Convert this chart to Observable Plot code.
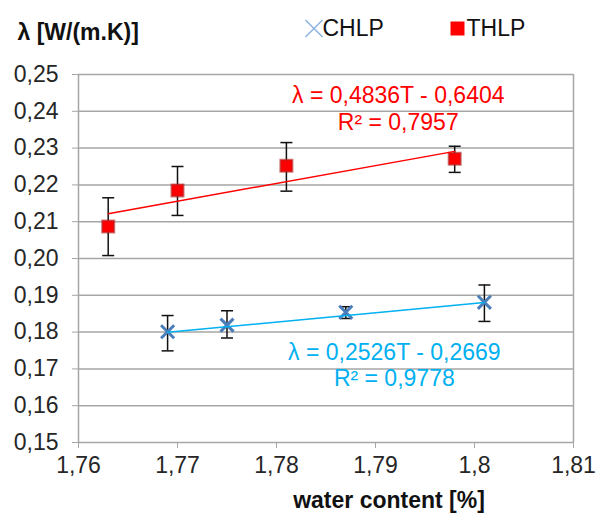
<!DOCTYPE html>
<html>
<head>
<meta charset="utf-8">
<script src="https://cdn.jsdelivr.net/npm/d3@7"></script>
<script src="https://cdn.jsdelivr.net/npm/@observablehq/plot@0.6"></script>
<style>
  html, body { margin: 0; padding: 0; background: #fff; }
</style>
</head>
<body>
<div id="chart"></div>
<script>
// ---- data ----
const xTicks = [1.76, 1.77, 1.78, 1.79, 1.8, 1.81];
const yTicks = [0.15, 0.16, 0.17, 0.18, 0.19, 0.20, 0.21, 0.22, 0.23, 0.24, 0.25];

const thlpX = [1.763, 1.770, 1.781, 1.798];
const thlpY = [0.2087, 0.2185, 0.2252, 0.2271];
const thlpLow = [0.2008, 0.2117, 0.2183, 0.2234];
const thlpHigh = [0.2165, 0.2250, 0.2315, 0.2305];

const chlpX = [1.769, 1.775, 1.787, 1.801];
const chlpY = [0.1801, 0.1819, 0.1854, 0.1881];
const chlpLow = [0.1749, 0.1784, 0.1837, 0.1829];
const chlpHigh = [0.1845, 0.1858, 0.1869, 0.1928];

const thlpSlope = 0.4836, thlpIntercept = -0.6404;
const chlpSlope = 0.2526, chlpIntercept = -0.2669;

const annotText = ["λ = 0,4836T - 0,6404", "R² = 0,7957", "λ = 0,2526T - 0,2669", "R² = 0,9778"];
const annotX = [1.7923, 1.7923, 1.7919, 1.7919];
const annotY = [0.2443, 0.2370, 0.1744, 0.1673];
const annotSeries = ["THLP", "THLP", "CHLP", "CHLP"];

const seriesNames = ["CHLP", "THLP"];
const yLabel = "λ [W/(m.K)]";
const xLabel = "water content [%]";

// ---- tables ----
const thlp = thlpX.map((x, i) => ({x, y: thlpY[i], lo: thlpLow[i], hi: thlpHigh[i]}));
const chlp = chlpX.map((x, i) => ({x, y: chlpY[i], lo: chlpLow[i], hi: chlpHigh[i]}));
const trendOf = (xs, m, b) => [d3.min(xs), d3.max(xs)].map(x => ({x, y: m * x + b}));
const thlpTrend = trendOf(thlpX, thlpSlope, thlpIntercept);
const chlpTrend = trendOf(chlpX, chlpSlope, chlpIntercept);
const annots = annotText.map((t, i) => ({t, x: annotX[i], y: annotY[i], s: annotSeries[i]}));

const RED = "#ff0000", BLUE_LINE = "#00b0f0", BLUE_MARK = "#4a7ebb", GRID = "#a6a6a6";
const capSymbol = {draw(ctx, size) { const r = Math.sqrt(size / Math.PI); ctx.moveTo(-r, 0); ctx.lineTo(r, 0); }};
const comma = s => s.replace(".", ",");

const chart = Plot.plot({
  width: 599, height: 513,
  marginLeft: 78, marginRight: 26, marginTop: 74, marginBottom: 71,
  style: {fontFamily: "'Liberation Sans', Arial, sans-serif", fontSize: "23px", background: "#fff", overflow: "visible"},
  x: {domain: [1.76, 1.81]},
  y: {domain: [0.15, 0.25]},
  marks: [
    Plot.gridY(yTicks, {stroke: GRID, strokeOpacity: 1, strokeWidth: 1.5}),
    Plot.ruleX([1.76, 1.81], {stroke: GRID, strokeWidth: 1.5}),
    Plot.axisY(yTicks, {tickFormat: d => comma(d3.format(".2f")(d)), tickSize: 6, tickPadding: 14, stroke: GRID, strokeOpacity: 1, fill: "#262626", label: null, fontSize: 23}),
    Plot.axisX(xTicks, {tickFormat: d => comma(String(d)), tickSize: 6, tickPadding: 8, stroke: GRID, strokeOpacity: 1, fill: "#262626", label: null, fontSize: 23}),
    // error bars
    Plot.ruleX(thlp, {x: "x", y1: "lo", y2: "hi", stroke: "#111", strokeWidth: 1.5}),
    Plot.dot(thlp, {x: "x", y: "lo", symbol: capSymbol, r: 6, stroke: "#111", strokeWidth: 1.5}),
    Plot.dot(thlp, {x: "x", y: "hi", symbol: capSymbol, r: 6, stroke: "#111", strokeWidth: 1.5}),
    Plot.ruleX(chlp, {x: "x", y1: "lo", y2: "hi", stroke: "#111", strokeWidth: 1.5}),
    Plot.dot(chlp, {x: "x", y: "lo", symbol: capSymbol, r: 6, stroke: "#111", strokeWidth: 1.5}),
    Plot.dot(chlp, {x: "x", y: "hi", symbol: capSymbol, r: 6, stroke: "#111", strokeWidth: 1.5}),
    // markers
    Plot.dot(thlp, {x: "x", y: "y", symbol: "square", r: 6.8, fill: RED, stroke: "#b22222", strokeOpacity: 0.6, strokeWidth: 2}),
    Plot.dot(chlp, {x: "x", y: "y", symbol: "times", r: 6, stroke: BLUE_MARK, strokeWidth: 3}),
    // trend lines
    Plot.line(thlpTrend, {x: "x", y: "y", stroke: RED, strokeWidth: 1.5}),
    Plot.line(chlpTrend, {x: "x", y: "y", stroke: BLUE_LINE, strokeWidth: 1.5}),
    // equations
    Plot.text(annots, {x: "x", y: "y", text: "t", fill: d => d.s === "THLP" ? RED : BLUE_LINE, fontSize: 23, textAnchor: "middle", lineAnchor: "middle"}),
    // axis titles
    Plot.text([yLabel], {frameAnchor: "top-left", text: d => d, dx: -61, dy: -42, textAnchor: "start", lineAnchor: "middle", fontWeight: "bold", fontSize: 23, fill: "#111"}),
    Plot.text([xLabel], {frameAnchor: "bottom", text: d => d, dx: 63, dy: 58, textAnchor: "middle", lineAnchor: "middle", fontWeight: "bold", fontSize: 23, fill: "#111"}),
    // legend
    Plot.dot([seriesNames[0]], {frameAnchor: "top-left", dx: 235.5, dy: -46, symbol: "times", r: 7.8, stroke: "#8db3e2", strokeWidth: 1.5}),
    Plot.text([seriesNames[0]], {frameAnchor: "top-left", text: d => d, dx: 244, dy: -46, textAnchor: "start", lineAnchor: "middle", fontSize: 23, fill: "#111"}),
    Plot.dot([seriesNames[1]], {frameAnchor: "top-left", dx: 379, dy: -46, symbol: "square", r: 7.9, fill: RED}),
    Plot.text([seriesNames[1]], {frameAnchor: "top-left", text: d => d, dx: 388, dy: -46, textAnchor: "start", lineAnchor: "middle", fontSize: 23, fill: "#111"})
  ]
});
document.getElementById("chart").appendChild(chart);
</script>
</body>
</html>
